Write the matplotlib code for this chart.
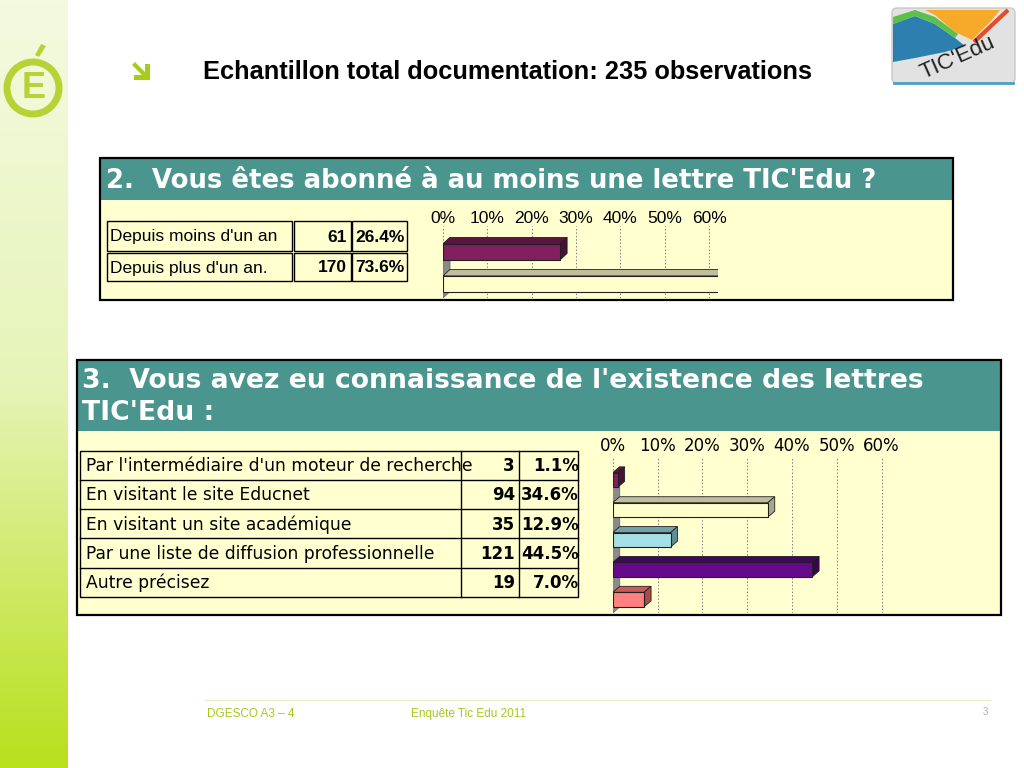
import numpy as np
import matplotlib
matplotlib.use("Agg")
import matplotlib.pyplot as plt
from matplotlib.patches import Rectangle, Polygon, Circle, FancyBboxPatch
from matplotlib.colors import LinearSegmentedColormap

# ---------------------------------------------------------------------------
# Data
# ---------------------------------------------------------------------------

TITLE = "Echantillon total documentation: 235 observations"

Q2_TITLE = "2.  Vous êtes abonné à au moins une lettre TIC'Edu ?"
Q2_LABELS = ["Depuis moins d'un an", "Depuis plus d'un an."]
Q2_COUNTS = [61, 170]
Q2_PCT = [26.4, 73.6]

Q3_TITLE = ["3.  Vous avez eu connaissance de l'existence des lettres", "TIC'Edu :"]
Q3_LABELS = [
    "Par l'intermédiaire d'un moteur de recherche",
    "En visitant le site Educnet",
    "En visitant un site académique",
    "Par une liste de diffusion professionnelle",
    "Autre précisez",
]
Q3_COUNTS = [3, 94, 35, 121, 19]
Q3_PCT = [1.1, 34.6, 12.9, 44.5, 7.0]

TICKS = [0, 10, 20, 30, 40, 50, 60]
TICK_LABELS = [f"{t}%" for t in TICKS]

FOOTER_LEFT = "DGESCO A3 – 4"
FOOTER_MID = "Enquête Tic Edu 2011"
PAGE_NO = "3"

# colours: front face, top face, side face
Q2_COLORS = [("#80205f", "#5c1444", "#4a1036"), ("#ffffcc", "#bebe9e", "#a8a888")]
Q3_COLORS = [
    ("#80205f", "#5c1444", "#4a1036"),
    ("#ffffcc", "#bebe9e", "#a8a888"),
    ("#a6e0e6", "#72a0a8", "#5f8e96"),
    ("#660a8c", "#420660", "#36054e"),
    ("#ff8080", "#c85a5a", "#b04848"),
]

TEAL = "#4a958e"
BODY = "#ffffd0"
LIME = "#b5d334"

W, H = 1024, 768


# ---------------------------------------------------------------------------
# Helpers
# ---------------------------------------------------------------------------

def bars_3d(ax, values, colors, height, depth_px=(7, 6)):
    """Horizontal bars with a fake 3D top and side face."""
    fig = ax.figure
    pos = ax.get_position()
    x0, x1 = ax.get_xlim()
    y0, y1 = ax.get_ylim()
    ddx = depth_px[0] * (x1 - x0) / (pos.width * fig.bbox.width)
    ddy = depth_px[1] * abs(y0 - y1) / (pos.height * fig.bbox.height)

    # back wall
    y_top = -height / 2
    y_bot = max(y0, y1)
    ax.add_patch(Polygon([(0, y_top), (ddx, y_top - ddy), (ddx, y_bot - ddy), (0, y_bot)],
                         closed=True, fc="#8a8a8a", ec="#6a6a6a", lw=0.6, zorder=2))

    for i, (v, (front, top, side)) in enumerate(zip(values, colors)):
        yt = i - height / 2
        yb = i + height / 2
        ax.add_patch(Polygon([(0, yt), (v, yt), (v + ddx, yt - ddy), (ddx, yt - ddy)],
                             closed=True, fc=top, ec="#202020", lw=0.6, zorder=3))
        ax.add_patch(Polygon([(v, yt), (v + ddx, yt - ddy), (v + ddx, yb - ddy), (v, yb)],
                             closed=True, fc=side, ec="#202020", lw=0.6, zorder=3))
        ax.barh(i, v, height=height, color=front, edgecolor="#202020", lw=0.8, zorder=4)


def style_axis(ax, fontfamily, fontsize, pad):
    ax.set_facecolor("none")
    ax.set_xticks(TICKS)
    ax.set_xticklabels(TICK_LABELS, family=fontfamily, fontsize=fontsize)
    ax.set_yticks([])
    ax.tick_params(axis="x", top=True, bottom=False, labeltop=True, labelbottom=False,
                   length=0, pad=pad)
    ax.xaxis.grid(True, linestyle=(0, (1.5, 2)), color="#808080", lw=0.7)
    ax.set_axisbelow(True)
    for s in ax.spines.values():
        s.set_visible(False)


# ---------------------------------------------------------------------------
# Figure
# ---------------------------------------------------------------------------

fig = plt.figure(figsize=(W / 100, H / 100), dpi=100)
fig.patch.set_facecolor("white")
bg = fig.add_axes([0, 0, 1, 1])
bg.set_xlim(0, W)
bg.set_ylim(H, 0)
bg.axis("off")

# left green strip
strip_cmap = LinearSegmentedColormap.from_list("strip", ["#f4fae0", "#e6f4b8", "#b8e01c"])
grad = np.linspace(0, 1, 256)[:, None]
bg.imshow(grad, extent=[0, 68, H, 0], aspect="auto", cmap=strip_cmap, zorder=0)

# É logo
bg.add_patch(Circle((33, 88), 26, fill=False, ec=LIME, lw=5, zorder=1))
bg.text(34, 89, "E", fontsize=26, weight="bold", color=LIME, ha="center", va="center",
        family="Liberation Sans")
bg.add_patch(Polygon([(35, 55), (41, 44), (46, 46), (39, 57)], closed=True, fc=LIME, ec="none"))

# arrow bullet
bg.add_patch(Polygon([(132, 65), (135, 62), (145, 72), (145, 64), (150, 64), (150, 80),
                      (134, 80), (134, 75), (142, 75)], closed=True, fc="#a8cc1a", ec="none"))

bg.text(203, 72, TITLE, fontsize=18.3, weight="bold", family="Liberation Sans", va="center")

# TIC'Edu logo
bg.add_patch(FancyBboxPatch((892, 8), 123, 75, boxstyle="round,pad=0,rounding_size=5",
                            fc="#e2e2e2", ec="#c8c8c8", lw=1))
bg.add_patch(Polygon([(893, 24), (915, 16), (935, 24), (955, 38), (965, 46), (945, 52),
                      (915, 58), (893, 62)], closed=True, fc="#2d7fb0", ec="none"))
bg.add_patch(Polygon([(893, 17), (915, 10), (935, 17), (958, 34), (955, 38), (935, 24),
                      (915, 16), (893, 24)], closed=True, fc="#5cc04a", ec="none"))
bg.add_patch(Polygon([(925, 10), (1000, 10), (990, 22), (972, 40), (955, 32), (935, 15)],
                     closed=True, fc="#f7a92a", ec="none"))
bg.plot([1008, 974], [10, 42], color="#e84a2a", lw=3, solid_capstyle="butt")
bg.text(958, 58, "TIC'Edu", fontsize=16, rotation=24, color="#222222", ha="center",
        va="center", family="Liberation Sans")
bg.plot([894, 1013], [83, 83], color="#4aa0c8", lw=2)

# ---------------------------------------------------------------------------
# Question 2 box
# ---------------------------------------------------------------------------
bg.add_patch(Rectangle((100, 200), 853, 100, fc=BODY, ec="none"))
bg.add_patch(Rectangle((100, 158), 853, 42, fc=TEAL, ec="none"))
bg.add_patch(Rectangle((100, 158), 853, 142, fill=False, ec="black", lw=1.6))
bg.text(106, 181, Q2_TITLE, fontsize=18.7, weight="bold", color="white",
        family="DejaVu Sans", va="center")

t1_cols = [(107, 292), (294, 351), (352, 407)]
t1_rows = [(221, 251), (253, 281)]
for r, (ya, yb) in enumerate(t1_rows):
    for (xa, xb) in t1_cols:
        bg.add_patch(Rectangle((xa, ya), xb - xa, yb - ya, fill=False, ec="black", lw=1))
    yc = (ya + yb) / 2 + 1
    bg.text(110, yc, Q2_LABELS[r], fontsize=12.5, family="Liberation Sans", va="center")
    bg.text(347, yc, str(Q2_COUNTS[r]), fontsize=12.5, weight="bold", family="Liberation Sans",
            va="center", ha="right")
    bg.text(405, yc, f"{Q2_PCT[r]:.1f}%", fontsize=12.5, weight="bold",
            family="Liberation Sans", va="center", ha="right")

ax1 = fig.add_axes([443 / W, 1 - 298 / H, (718 - 443) / W, (298 - 226) / H])
ax1.set_xlim(0, 62)
ax1.set_ylim(1.44, -0.81)
style_axis(ax1, "Liberation Sans", 12.5, 0)
bars_3d(ax1, Q2_PCT, Q2_COLORS, 0.5, depth_px=(7, 6.5))

# ---------------------------------------------------------------------------
# Question 3 box
# ---------------------------------------------------------------------------
bg.add_patch(Rectangle((77, 431), 924, 184, fc=BODY, ec="none"))
bg.add_patch(Rectangle((77, 360), 924, 71, fc=TEAL, ec="none"))
bg.add_patch(Rectangle((77, 360), 924, 255, fill=False, ec="black", lw=1.6))
bg.text(82, 381, Q3_TITLE[0], fontsize=19.2, weight="bold", color="white",
        family="DejaVu Sans", va="center")
bg.text(82, 413, Q3_TITLE[1], fontsize=19.2, weight="bold", color="white",
        family="DejaVu Sans", va="center")

t2_left, t2_right = 80, 577.5
t2_top, t2_bot = 450.7, 596.7
row_h = (t2_bot - t2_top) / len(Q3_LABELS)
bg.add_patch(Rectangle((t2_left, t2_top), t2_right - t2_left, t2_bot - t2_top,
                       fill=False, ec="black", lw=1))
for xc in (460.7, 519.3):
    bg.plot([xc, xc], [t2_top, t2_bot], color="black", lw=1)
for r in range(1, len(Q3_LABELS)):
    yl = t2_top + r * row_h
    bg.plot([t2_left, t2_right], [yl, yl], color="black", lw=1)
for r, lab in enumerate(Q3_LABELS):
    yc = t2_top + (r + 0.5) * row_h + 1
    bg.text(86, yc, lab, fontsize=12.3, family="DejaVu Sans", va="center")
    bg.text(515, yc, str(Q3_COUNTS[r]), fontsize=12, weight="bold", family="DejaVu Sans",
            va="center", ha="right")
    bg.text(579, yc, f"{Q3_PCT[r]:.1f}%", fontsize=12, weight="bold", family="DejaVu Sans",
            va="center", ha="right")

ax2 = fig.add_axes([612.7 / W, 1 - 613 / H, (890.5 - 612.7) / W, (613 - 458) / H])
ax2.set_xlim(0, 62)
ax2.set_ylim(4.45, -0.74)
style_axis(ax2, "DejaVu Sans", 12, 2)
bars_3d(ax2, Q3_PCT, Q3_COLORS, 0.485, depth_px=(7, 6))

# ---------------------------------------------------------------------------
# Footer
# ---------------------------------------------------------------------------
bg.plot([205, 990], [700, 700], color="#e8f0c8", lw=1)
bg.text(207, 714, FOOTER_LEFT, fontsize=8.5, color="#a6c81e", family="Liberation Sans",
        va="center")
bg.text(411, 714, FOOTER_MID, fontsize=8.5, color="#a6c81e", family="Liberation Sans",
        va="center")
bg.text(988, 712, PAGE_NO, fontsize=7, color="#b0b0b0", family="Liberation Sans",
        va="center", ha="right")

fig.savefig("out.png", dpi=100)
